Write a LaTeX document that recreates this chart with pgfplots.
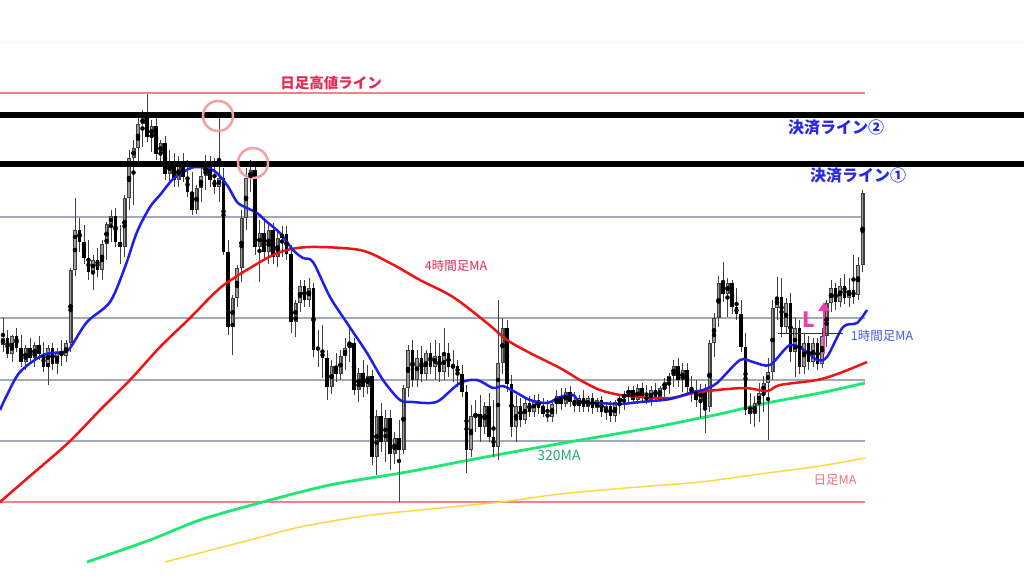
\documentclass[border=0pt]{standalone}
\usepackage{pgfplots}
\pgfplotsset{compat=1.18}
\usepackage{pgfplotstable}
\usepackage{fontspec}
\setmainfont{Noto Sans CJK JP}
\newfontfamily\jp{Noto Sans CJK JP}
\usetikzlibrary{arrows.meta}
\definecolor{maBlue}{RGB}{30,30,235}
\definecolor{maRed}{RGB}{238,20,20}
\definecolor{maGreen}{RGB}{30,232,115}
\definecolor{maYellow}{RGB}{255,215,70}
\definecolor{refGray}{RGB}{160,170,185}
\definecolor{refRed}{RGB}{245,130,135}
\definecolor{circPink}{RGB}{242,160,160}
\definecolor{labRed}{RGB}{232,40,80}
\definecolor{labBlue}{RGB}{40,40,230}
\definecolor{labBlue2}{RGB}{70,90,225}
\definecolor{labGreen}{RGB}{40,170,110}
\definecolor{labPink}{RGB}{240,110,120}
\definecolor{arrPink}{RGB}{240,60,170}

\pgfplotstableread{
o h l c
345 318 352 338
338 330 358 354
354 335 362 336
336 328 352 348
348 335 367 362
362 345 370 348
348 338 364 358
358 342 367 345
345 336 360 354
354 342 372 367
367 345 385 348
348 343 370 364
364 348 374 352
352 340 366 356
356 340 362 343
343 268 352 270
270 198 276 230
230 218 252 242
242 225 264 258
258 240 280 272
272 255 290 260
260 248 277 270
270 240 280 244
244 222 260 224
224 210 242 216
216 208 247 242
242 225 264 247
247 195 257 198
198 150 210 158
158 140 205 148
148 115 162 124
124 110 147 118
118 94 142 137
137 120 152 126
126 116 160 154
154 140 167 143
143 136 180 174
174 150 184 163
163 153 187 180
180 156 187 166
166 153 182 177
177 160 197 192
192 172 215 210
210 185 214 188
188 168 202 176
176 155 190 163
163 156 187 180
180 158 194 187
187 118 202 178
178 168 255 252
252 240 335 327
327 295 355 298
298 265 307 268
268 210 282 218
218 168 230 178
178 160 192 170
170 166 255 247
247 220 282 233
233 220 260 252
252 225 264 230
230 223 264 257
257 232 267 238
238 226 257 234
234 226 260 254
254 245 333 322
322 300 337 303
303 280 312 286
286 280 307 300
300 278 307 288
288 283 357 350
350 330 367 350
352 325 378 358
358 350 400 387
387 360 394 366
366 353 382 374
374 350 380 356
356 338 370 348
348 325 362 343
343 338 395 390
390 368 402 373
373 360 397 387
387 365 394 376
376 370 465 457
457 410 475 416
416 403 452 442
442 410 462 418
418 410 470 454
454 432 464 438
438 420 502 450
450 385 454 388
388 345 397 350
350 340 387 380
380 350 387 358
358 346 382 374
374 350 380 353
353 343 374 367
367 340 380 356
356 343 382 372
372 328 380 353
353 343 377 367
367 350 382 366
366 360 387 374
374 365 397 392
392 385 473 450
450 405 457 416
416 400 432 414
414 395 442 427
427 402 434 406
406 393 442 437
437 400 457 447
447 300 460 363
363 318 374 328
328 320 392 384
384 375 437 427
427 395 442 406
406 398 427 420
420 398 424 403
403 396 417 412
412 395 417 400
400 394 414 408
408 398 417 414
414 400 422 417
417 402 422 404
404 390 414 396
396 388 410 404
404 388 407 392
392 386 407 402
402 392 412 406
406 395 412 398
398 390 412 407
407 396 412 398
398 393 414 408
408 398 412 400
400 396 417 412
412 402 420 406
406 401 422 416
416 400 422 402
402 394 414 398
398 391 410 394
394 386 404 390
390 386 404 400
400 384 404 388
388 383 402 397
397 385 404 400
400 386 406 390
390 383 402 397
397 386 402 388
388 378 398 382
382 373 394 376
376 360 387 366
366 358 387 380
380 363 392 370
370 363 394 387
387 376 402 394
394 380 407 400
400 384 418 390
390 384 433 407
407 340 412 343
343 313 357 318
318 276 327 283
283 262 302 294
294 278 317 283
283 280 314 307
307 288 320 314
314 300 352 347
347 333 415 410
410 393 424 414
414 396 427 403
403 383 422 393
393 376 412 383
383 358 440 372
372 300 380 308
308 277 320 297
297 278 337 327
327 298 334 303
303 293 362 352
352 318 377 328
328 320 374 367
367 333 374 343
343 336 370 362
362 338 367 343
343 338 370 364
364 328 368 336
336 300 347 303
303 280 312 288
288 283 310 302
302 278 307 286
286 274 304 298
298 278 307 290
290 255 304 297
295 257 300 265
265 190 272 193
}\candles

\begin{document}
\begin{tikzpicture}
\fill[white] (0,0) rectangle (1024pt,576pt);
\useasboundingbox (0,0) rectangle (1024pt,576pt);
\begin{axis}[at={(0,0)}, anchor=south west, scale only axis,
  width=1024pt, height=576pt, xmin=0, xmax=1024, ymin=0, ymax=576,
  y dir=reverse, axis lines=none, clip=false]

% reference lines
\draw[red!8, line width=1pt] (axis cs:0,42) -- (axis cs:1024,42);
\draw[refRed, line width=1.2pt] (axis cs:0,93) -- (axis cs:865,93);
\foreach \yy in {217,318,380,441}{
  \edef\tmp{\noexpand\draw[refGray, line width=1.2pt] (axis cs:0,\yy) -- (axis cs:865,\yy);}\tmp
}
\draw[refRed, line width=1.5pt] (axis cs:0,502) -- (axis cs:865,502);

% daily MA (yellow)
\addplot[maYellow, line width=1.5pt, smooth] coordinates {
(165,562) (250,540) (300,527) (364,516) (430,509) (501,502) (560,494)
(626,488) (700,482) (760,474) (820,466) (865,458)};
% 320MA (green)
\addplot[maGreen, line width=2.8pt, smooth] coordinates {
(87,562) (150,540) (200,520) (259,503) (330,485) (407,472) (480,458)
(569,442) (650,428) (700,418) (720,414) (767,403) (820,393) (865,383)};

% candles: wicks
\addplot[only marks, mark=none, error bars/.cd, y dir=both, y explicit,
  error mark=none, error bar style={line width=1pt, color=black!75}]
  table[x expr={3+4.5*\coordindex}, y expr={(\thisrow{h}+\thisrow{l})/2},
        y error expr={(\thisrow{l}-\thisrow{h})/2}] {\candles};
% bullish bodies (outline + lighter fill)
\addplot[only marks, mark=none,
  restrict expr to domain={\thisrow{o}-\thisrow{c}}{0.01:1000},
  error bars/.cd, y dir=both, y explicit,
  error mark=none, error bar style={line width=4pt, color=black!75}]
  table[x expr={3+4.5*\coordindex}, y expr={(\thisrow{o}+\thisrow{c})/2},
        y error expr={abs(\thisrow{o}-\thisrow{c})/2}] {\candles};
\addplot[only marks, mark=none,
  restrict expr to domain={\thisrow{o}-\thisrow{c}}{0.01:1000},
  error bars/.cd, y dir=both, y explicit,
  error mark=none, error bar style={line width=1.8pt, color=black!40}]
  table[x expr={3+4.5*\coordindex}, y expr={(\thisrow{o}+\thisrow{c})/2},
        y error expr={abs(\thisrow{o}-\thisrow{c})/2-0.8}] {\candles};
% bearish bodies
\addplot[only marks, mark=none,
  restrict expr to domain={\thisrow{c}-\thisrow{o}}{0.01:1000},
  error bars/.cd, y dir=both, y explicit,
  error mark=none, error bar style={line width=3.6pt, color=black}]
  table[x expr={3+4.5*\coordindex}, y expr={(\thisrow{o}+\thisrow{c})/2},
        y error expr={abs(\thisrow{o}-\thisrow{c})/2}] {\candles};

% 4h MA (red)
\addplot[maRed, line width=2.5pt, smooth] coordinates {
(0,502) (30,476) (68,443) (100,410) (130,380) (160,347) (190,318) (220,288)
(250,268) (280,252) (310,247) (360,250) (390,263) (420,280) (453,297)
(487,323) (507,340) (530,353) (560,368) (580,380) (600,390) (620,395)
(640,397) (670,398) (700,392) (743,388) (767,391) (780,385) (817,380)
(840,373) (867,362)};
% 1h MA (blue)
\addplot[maBlue, line width=2.5pt, smooth] coordinates {
(0,410) (7,395) (20,372) (43,355) (63,352) (70,348) (87,322) (110,302)
(125,267) (137,232) (150,207) (160,195) (172,180) (183,172) (195,167)
(213,170) (227,185) (237,202) (247,208) (257,213) (267,222) (280,233)
(293,250) (303,258) (313,262) (330,297) (347,323) (367,353) (383,380)
(400,400) (413,402) (430,403) (440,400) (460,383) (477,380) (493,388)
(503,386) (517,393) (530,400) (547,403) (560,397) (573,395) (580,402)
(600,403) (620,404) (640,402) (670,399) (693,392) (703,390) (717,383)
(740,360) (753,362) (770,365) (790,345) (807,352) (817,360) (827,357)
(843,327) (857,323) (867,310)};

% exit lines
\draw[black, line width=6.5pt] (axis cs:0,115) -- (axis cs:1024,115);
\draw[black, line width=6.5pt] (axis cs:0,164) -- (axis cs:1024,164);

% circles
\draw[circPink, line width=2.5pt] (axis cs:218,116) circle[radius=15pt];
\draw[circPink, line width=2.5pt] (axis cs:253,163) circle[radius=15pt];

% entry mark
\draw[black!80, line width=1pt] (axis cs:778,333) -- (axis cs:843,333);
\draw[arrPink, line width=2.5pt, -{Triangle[width=11pt,length=9pt]}]
  (axis cs:824,354) -- (axis cs:824,302);
\node[text=arrPink, font=\jp\bfseries\fontsize{21}{21}\selectfont] at (axis cs:809,320) {L};

% labels
\node[text=labRed, font=\jp\bfseries\fontsize{14.5}{15}\selectfont] at (axis cs:331,83) {日足高値ライン};
\node[text=labBlue, font=\jp\bfseries\fontsize{16}{17}\selectfont] at (axis cs:836,128) {決済ライン②};
\node[text=labBlue, font=\jp\bfseries\fontsize{16}{17}\selectfont] at (axis cs:858,176) {決済ライン①};
\node[text=labRed, font=\jp\fontsize{12.5}{13}\selectfont] at (axis cs:456,266) {4時間足MA};
\node[text=labBlue2, font=\jp\fontsize{12.5}{13}\selectfont] at (axis cs:882,336) {1時間足MA};
\node[text=labGreen, font=\jp\fontsize{14}{14}\selectfont] at (axis cs:559,455) {320MA};
\node[text=labPink, font=\jp\fontsize{12.5}{13}\selectfont] at (axis cs:835,480) {日足MA};
\end{axis}
\end{tikzpicture}
\end{document}
